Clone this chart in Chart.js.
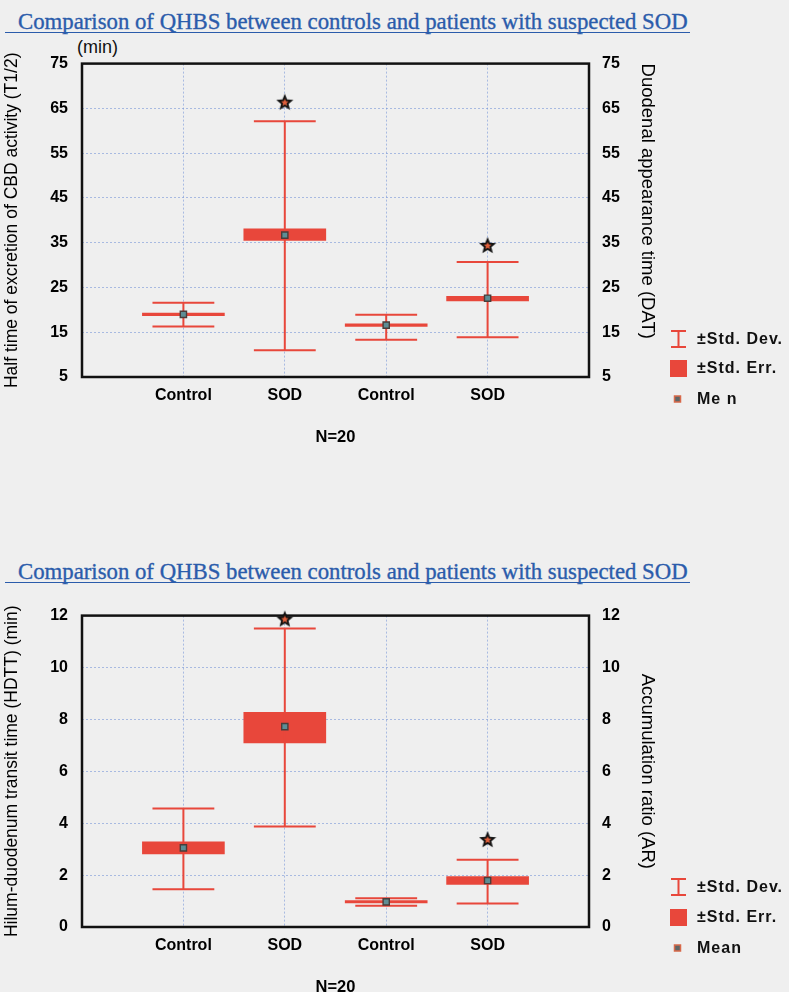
<!DOCTYPE html>
<html>
<head>
<meta charset="utf-8">
<script src="https://cdn.jsdelivr.net/npm/chart.js@4.4.1/dist/chart.umd.min.js"></script>
<style>
  html, body { margin: 0; padding: 0; }
  body {
    width: 789px; height: 992px; background: #efefef;
    position: relative; overflow: hidden;
    font-family: "Liberation Sans", Arial, sans-serif; color: #111;
  }
  .heading {
    position: absolute; left: 5px; padding-left: 13px; padding-right: 2px;
    font-family: "Liberation Serif", serif; color: #2b5cab;
    -webkit-text-stroke: 0.35px #2b5cab;
    border-bottom: 1.5px solid #2b5cab; white-space: nowrap; line-height: 21px;
  }
  .box { position: absolute; left: 0; width: 789px; }
  .box canvas { display: block; }
  .unit { position: absolute; left: 77px; top: 37px; font-size: 18px; line-height: 20px; }
  .row {
    position: absolute; left: 670px; height: 20px; display: flex; align-items: center;
    white-space: nowrap; font-size: 16px; font-weight: bold; letter-spacing: 1px;
  }
  .icon { width: 17px; height: 20px; display: flex; align-items: center; justify-content: center; margin-right: 10px; }
</style>
</head>
<body>

<div class="heading" id="head1" style="top:11px">Comparison of QHBS between controls and patients with suspected SOD</div>
<div class="unit">(min)</div>
<div class="box" style="top:40px;height:420px"><canvas id="topChart"></canvas></div>
<div class="row" style="top:329px"><span class="icon"><svg width="17" height="18"><path d="M1 1H16M8.5 1V17M1 17H16" stroke="#e8473b" stroke-width="2" fill="none"/></svg></span>±Std. Dev.</div>
<div class="row" style="top:358px"><span class="icon"><svg width="17" height="17"><rect width="17" height="17" fill="#e8473b"/></svg></span>±Std. Err.</div>
<div class="row" style="top:389px"><span class="icon"><svg width="17" height="8"><rect x="4.5" y="1" width="6" height="6" fill="#5f6666" stroke="#d8694a" stroke-width="1.5"/></svg></span>Me n</div>

<div class="heading" id="head2" style="top:561px">Comparison of QHBS between controls and patients with suspected SOD</div>
<div class="box" style="top:592px;height:405px"><canvas id="lowChart"></canvas></div>
<div class="row" style="top:877px"><span class="icon"><svg width="17" height="18"><path d="M1 1H16M8.5 1V17M1 17H16" stroke="#e8473b" stroke-width="2" fill="none"/></svg></span>±Std. Dev.</div>
<div class="row" style="top:907px"><span class="icon"><svg width="17" height="17"><rect width="17" height="17" fill="#e8473b"/></svg></span>±Std. Err.</div>
<div class="row" style="top:938px"><span class="icon"><svg width="17" height="8"><rect x="4.5" y="1" width="6" height="6" fill="#5f6666" stroke="#d8694a" stroke-width="1.5"/></svg></span>Mean</div>

<script>
const categories = ["Control", "SOD", "Control", "SOD"];
const positions = [1, 2, 3, 4];
const slotTicks = [0, 1, 2, 3, 4, 5];

// upper panel: T1/2 (left) and DAT (right), minutes
const topMean = [19.0, 36.7, 16.6, 22.6];
const topSeLow = [18.7, 35.5, 16.3, 22.0];
const topSeHigh = [19.3, 38.1, 16.9, 23.0];
const topSdLow = [16.3, 11.0, 13.3, 13.9];
const topSdHigh = [21.6, 62.1, 18.9, 30.7];
const topStar = [null, 66.5, null, 34.5];
const topTicks = [5, 15, 25, 35, 45, 55, 65, 75];

// lower panel: HDTT (left) and AR (right)
const lowMean = [3.05, 7.72, 0.97, 1.79];
const lowSeLow = [2.82, 7.09, 0.93, 1.64];
const lowSeHigh = [3.28, 8.27, 1.02, 1.94];
const lowSdLow = [1.45, 3.87, 0.82, 0.91];
const lowSdHigh = [4.57, 11.5, 1.11, 2.59];
const lowStar = [null, 11.89, null, 3.39];
const lowTicks = [0, 2, 4, 6, 8, 10, 12];

const RED = "#e8473b";
const GRID = "rgba(120, 150, 215, 0.6)";
const CAP = 0.305;

Chart.defaults.font.family = '"Liberation Sans", Arial, sans-serif';
Chart.defaults.color = "#000";

function fitHeading(el, targetWidth) {
    const probe = document.createElement("canvas").getContext("2d");
    probe.font = '20px "Liberation Serif"';
    const w = probe.measureText(el.textContent).width;
    el.style.fontSize = (20 * targetWidth / w).toFixed(2) + "px";
}

function makeStar(size) {
    const c = document.createElement("canvas");
    c.width = size;
    c.height = size;
    const g = c.getContext("2d");
    const drawStar = (r1, r2, color) => {
        g.beginPath();
        for (let k = 0; k < 10; k++) {
            const r = k % 2 === 0 ? r1 : r2;
            const a = -Math.PI / 2 + k * Math.PI / 5;
            g.lineTo(size / 2 + r * Math.cos(a), size / 2 + 1 + r * Math.sin(a));
        }
        g.closePath();
        g.fillStyle = color;
        g.fill();
    };
    drawStar(size / 2, size / 4.6, "#111");
    drawStar(size / 4.5, size / 10, "#e0603c");
    return c;
}

const frame = {
    id: "frame",
    beforeDatasetsDraw(chart) {
        const { ctx, chartArea: a } = chart;
        ctx.save();
        ctx.lineWidth = 2.5;
        ctx.strokeStyle = "#111";
        ctx.strokeRect(a.left, a.top, a.right - a.left, a.bottom - a.top);
        ctx.restore();
    }
};

function buildChart(id, p) {
    const whisker = [];
    positions.forEach((x, i) => {
        const lo = p.sdLow[i];
        const hi = p.sdHigh[i];
        whisker.push(
            { x: x - CAP, y: hi }, { x: x + CAP, y: hi }, { x: x, y: null },
            { x: x, y: hi }, { x: x, y: lo }, { x: x, y: null },
            { x: x - CAP, y: lo }, { x: x + CAP, y: lo }, { x: x, y: null }
        );
    });

    const boxes = positions.map((x, i) => ({ x: x, y: [p.seLow[i], p.seHigh[i]] }));
    const means = positions.map((x, i) => ({ x: x, y: p.mean[i] }));
    const stars = positions
        .map((x, i) => (p.star[i] == null ? null : { x: x, y: p.star[i] }))
        .filter(Boolean);

    const ticks = p.ticks;
    const setTicks = s => { s.ticks = ticks.map(v => ({ value: v })); };

    return new Chart(document.getElementById(id), {
        type: "line",
        data: {
            datasets: [
                {
                    label: "star", data: stars, showLine: false, order: 0, clip: false,
                    pointStyle: makeStar(18), pointRadius: 9
                },
                {
                    label: "Mean", data: means, showLine: false, order: 1,
                    pointStyle: "rect", pointRadius: 4.4,
                    pointBackgroundColor: "#5d8e95", pointBorderColor: "#4a3d3a", pointBorderWidth: 1.4
                },
                {
                    label: "±Std. Dev.", data: whisker, order: 2, spanGaps: false,
                    borderColor: RED, borderWidth: 2, pointRadius: 0, tension: 0
                },
                {
                    type: "bar", label: "±Std. Err.", data: boxes, order: 3,
                    backgroundColor: RED, borderWidth: 0, barThickness: 82
                }
            ]
        },
        options: {
            responsive: true,
            maintainAspectRatio: false,
            animation: false,
            layout: { padding: { top: p.padTop, left: 0, right: 127, bottom: p.padBottom } },
            plugins: { legend: { display: false }, tooltip: { enabled: false } },
            scales: {
                x: {
                    type: "linear", min: 0, max: 5, offset: false,
                    afterBuildTicks: s => { s.ticks = slotTicks.map(v => ({ value: v })); },
                    ticks: {
                        autoSkip: false, maxRotation: 0, padding: 9,
                        font: { size: 16, weight: "bold" },
                        callback: v => categories[v - 1] || ""
                    },
                    grid: { color: GRID, drawTicks: false, offset: false },
                    border: { display: false, dash: [2, 2] },
                    title: {
                        display: true, text: "N=20", font: { size: 16.5, weight: "bold" },
                        padding: { top: 0, bottom: p.titlePad }
                    },
                    afterFit: s => { s.height = p.xHeight; }
                },
                y: {
                    position: "left", min: ticks[0], max: ticks[ticks.length - 1],
                    afterBuildTicks: setTicks,
                    ticks: { padding: 14, font: { size: 16, weight: "bold" } },
                    grid: { color: GRID, drawTicks: false },
                    border: { display: false, dash: [2, 2] },
                    title: {
                        display: true, text: p.leftTitle, font: { size: 17.5 },
                        padding: { top: 2, bottom: 0 }
                    },
                    afterFit: s => { s.width = 82; }
                },
                y2: {
                    position: "right", min: ticks[0], max: ticks[ticks.length - 1],
                    afterBuildTicks: setTicks,
                    ticks: { padding: 13, font: { size: 16, weight: "bold" } },
                    grid: { display: false, drawTicks: false },
                    border: { display: false },
                    title: {
                        display: true, text: p.rightTitle, align: p.rightAlign, font: { size: 18.5 },
                        padding: { top: 4, bottom: 0 }
                    },
                    afterFit: s => { s.width = 73; }
                }
            }
        },
        plugins: [frame]
    });
}

fitHeading(document.getElementById("head1"), 670);
fitHeading(document.getElementById("head2"), 670);

buildChart("topChart", {
    mean: topMean, seLow: topSeLow, seHigh: topSeHigh,
    sdLow: topSdLow, sdHigh: topSdHigh, star: topStar, ticks: topTicks,
    leftTitle: "Half time of excretion of CBD activity (T1/2)",
    rightTitle: "Duodenal appearance time (DAT)", rightAlign: "end",
    padTop: 20, padBottom: 8.5, xHeight: 74.5, titlePad: 4
});

buildChart("lowChart", {
    mean: lowMean, seLow: lowSeLow, seHigh: lowSeHigh,
    sdLow: lowSdLow, sdHigh: lowSdHigh, star: lowStar, ticks: lowTicks,
    leftTitle: "Hilum-duodenum transit time (HDTT) (min)",
    rightTitle: "Accumulation ratio (AR)", rightAlign: "center",
    padTop: 20, padBottom: 0, xHeight: 70, titlePad: 0
});
</script>
</body>
</html>
